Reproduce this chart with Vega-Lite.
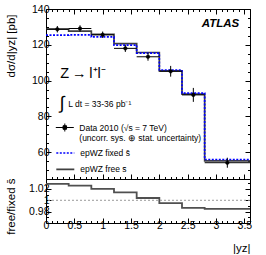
{
  "$schema": "https://vega.github.io/schema/vega-lite/v6.json",
  "background": "white",
  "padding": {"left": 4, "top": 3, "right": 5, "bottom": 2},
  "config": {
    "font": "Liberation Sans",
    "view": {"stroke": "black", "strokeWidth": 1},
    "axis": {"domain": false, "grid": false, "labelFont": "Liberation Sans", "labelFontSize": 10.5, "labelColor": "black", "tickColor": "black", "tickWidth": 1, "titleFont": "Liberation Sans", "titleFontSize": 11.5, "titleFontWeight": "normal", "titleColor": "black", "labelOverlap": false, "labelFlush": false},
    "legend": {"labelFont": "Liberation Sans", "labelFontSize": 8.5, "labelColor": "black", "labelLimit": 0, "padding": 0, "offset": 0}
  },
  "datasets": {
    "models": [
      {"model": "epWZ free s̄", "x": 0, "dsdy": 128.8},
      {"model": "epWZ free s̄", "x": 0.4, "dsdy": 127.6},
      {"model": "epWZ free s̄", "x": 0.8, "dsdy": 125.8},
      {"model": "epWZ free s̄", "x": 1.2, "dsdy": 120.6},
      {"model": "epWZ free s̄", "x": 1.6, "dsdy": 115.7},
      {"model": "epWZ free s̄", "x": 2.0, "dsdy": 105.4},
      {"model": "epWZ free s̄", "x": 2.4, "dsdy": 92.4},
      {"model": "epWZ free s̄", "x": 2.8, "dsdy": 55.1},
      {"model": "epWZ free s̄", "x": 3.6, "dsdy": 55.1},
      {"model": "epWZ fixed s̄", "x": 0, "dsdy": 125.4},
      {"model": "epWZ fixed s̄", "x": 0.4, "dsdy": 125.5},
      {"model": "epWZ fixed s̄", "x": 0.8, "dsdy": 124.4},
      {"model": "epWZ fixed s̄", "x": 1.2, "dsdy": 119.8},
      {"model": "epWZ fixed s̄", "x": 1.6, "dsdy": 115.3},
      {"model": "epWZ fixed s̄", "x": 2.0, "dsdy": 105.9},
      {"model": "epWZ fixed s̄", "x": 2.4, "dsdy": 93.0},
      {"model": "epWZ fixed s̄", "x": 2.8, "dsdy": 55.9},
      {"model": "epWZ fixed s̄", "x": 3.6, "dsdy": 55.9}
    ],
    "bins": [
      {"label": "Data 2010 (√s = 7 TeV)", "lo": 0.0, "hi": 0.4, "c": 0.2, "data": 128.7, "err": 1.8},
      {"label": "Data 2010 (√s = 7 TeV)", "lo": 0.4, "hi": 0.8, "c": 0.6, "data": 129.1, "err": 1.8},
      {"label": "Data 2010 (√s = 7 TeV)", "lo": 0.8, "hi": 1.2, "c": 1.0, "data": 125.6, "err": 1.8},
      {"label": "Data 2010 (√s = 7 TeV)", "lo": 1.2, "hi": 1.6, "c": 1.4, "data": 118.0, "err": 2.0},
      {"label": "Data 2010 (√s = 7 TeV)", "lo": 1.6, "hi": 2.0, "c": 1.8, "data": 113.3, "err": 2.2},
      {"label": "Data 2010 (√s = 7 TeV)", "lo": 2.0, "hi": 2.4, "c": 2.2, "data": 105.2, "err": 3.0},
      {"label": "Data 2010 (√s = 7 TeV)", "lo": 2.4, "hi": 2.8, "c": 2.6, "data": 92.0, "err": 3.9},
      {"label": "Data 2010 (√s = 7 TeV)", "lo": 2.8, "hi": 3.6, "c": 3.2, "data": 54.1, "err": 2.8}
    ],
    "ratio": [
      {"x": 0, "r": 1.029},
      {"x": 0.4, "r": 1.026},
      {"x": 0.8, "r": 1.020},
      {"x": 1.2, "r": 1.014},
      {"x": 1.6, "r": 1.004},
      {"x": 2.0, "r": 0.995},
      {"x": 2.4, "r": 0.9865},
      {"x": 2.8, "r": 0.985},
      {"x": 3.6, "r": 0.985}
    ]
  },
  "spacing": 0,
  "bounds": "flush",
  "vconcat": [
    {
      "width": 204,
      "height": 170,
      "resolve": {"axis": {"x": "independent", "y": "independent"}},
      "layer": [
        {
          "data": {"name": "models"},
          "mark": {"type": "line", "interpolate": "step-after", "strokeWidth": 1.7},
          "encoding": {
            "x": {"field": "x", "type": "quantitative", "scale": {"domain": [0, 3.6], "nice": false, "zero": false},
              "axis": {"orient": "bottom", "values": [0,0.1,0.2,0.3,0.4,0.5,0.6,0.7,0.8,0.9,1,1.1,1.2,1.3,1.4,1.5,1.6,1.7,1.8,1.9,2,2.1,2.2,2.3,2.4,2.5,2.6,2.7,2.8,2.9,3,3.1,3.2,3.3,3.4,3.5,3.6], "labels": false, "title": null,
                "tickSize": {"condition": {"test": "abs(datum.value*2-round(datum.value*2))<0.001", "value": -5}, "value": -2.5}}},
            "y": {"field": "dsdy", "type": "quantitative", "scale": {"domain": [45, 140], "nice": false, "zero": false},
              "axis": {"orient": "left", "values": [45,50,55,60,65,70,75,80,85,90,95,100,105,110,115,120,125,130,135,140], "labelExpr": "datum.value % 20 == 0 ? datum.label : ''", "labelPadding": 2,
                "tickSize": {"condition": {"test": "datum.value % 20 == 0", "value": -5}, "value": -2.5},
                "title": "dσ/d|yᴢ| [pb]", "titleAngle": -90, "titleAlign": "right", "titleBaseline": "top", "titleX": -41, "titleY": 5}},
            "color": {"field": "model", "type": "nominal", "scale": {"domain": ["epWZ fixed s̄", "epWZ free s̄"], "range": ["#0000ff", "#404040"]},
              "legend": {"orient": "none", "legendX": 13.3, "legendY": 138, "title": null, "symbolType": "M-1.8,0H1.8", "symbolSize": 100, "symbolStrokeWidth": 1.6, "labelOffset": 9, "rowPadding": 5.4}},
            "strokeDash": {"field": "model", "type": "nominal", "scale": {"domain": ["epWZ fixed s̄", "epWZ free s̄"], "range": [[2, 1.5], [1, 0]]},
              "legend": {"orient": "none", "legendX": 13.3, "legendY": 138, "title": null, "symbolType": "M-1.8,0H1.8", "symbolSize": 100, "symbolStrokeWidth": 1.6, "labelOffset": 9, "rowPadding": 5.4}}
          }
        },
        {
          "data": {"name": "bins"},
          "mark": {"type": "rule", "color": "black", "strokeWidth": 1},
          "encoding": {
            "x": {"field": "lo", "type": "quantitative",
              "axis": {"orient": "top", "values": [0,0.1,0.2,0.3,0.4,0.5,0.6,0.7,0.8,0.9,1,1.1,1.2,1.3,1.4,1.5,1.6,1.7,1.8,1.9,2,2.1,2.2,2.3,2.4,2.5,2.6,2.7,2.8,2.9,3,3.1,3.2,3.3,3.4,3.5,3.6], "labels": false, "title": null,
                "tickSize": {"condition": {"test": "abs(datum.value*2-round(datum.value*2))<0.001", "value": -5}, "value": -2.5}}},
            "x2": {"field": "hi"},
            "y": {"field": "data", "type": "quantitative",
              "axis": {"orient": "right", "values": [45,50,55,60,65,70,75,80,85,90,95,100,105,110,115,120,125,130,135,140], "labels": false, "title": null,
                "tickSize": {"condition": {"test": "datum.value % 20 == 0", "value": -5}, "value": -2.5}}}
          }
        },
        {
          "data": {"name": "bins"},
          "mark": {"type": "errorbar", "ticks": false, "color": "black", "thickness": 1},
          "encoding": {
            "x": {"field": "c", "type": "quantitative", "axis": null},
            "y": {"field": "data", "type": "quantitative", "axis": null},
            "yError": {"field": "err"}
          }
        },
        {
          "data": {"name": "bins"},
          "mark": {"type": "point", "filled": true, "size": 13, "opacity": 1, "stroke": "black", "strokeWidth": 0.5},
          "encoding": {
            "x": {"field": "c", "type": "quantitative", "axis": null},
            "y": {"field": "data", "type": "quantitative", "axis": null},
            "fill": {"field": "label", "type": "nominal", "scale": {"range": ["black"]},
              "legend": {"orient": "none", "legendX": 13.3, "legendY": 113, "title": null, "labelOffset": 9, "symbolSize": 100,
                "symbolType": "M-1.8,0H1.8M0,-0.8V0.8M-0.35,-0.35H0.35V0.35H-0.35Z", "symbolStrokeColor": "black", "symbolStrokeWidth": 1, "symbolFillColor": "black",
                "labelExpr": "['Data 2010 (√s = 7 TeV)', '(uncorr. sys. ⊕ stat. uncertainty)']",
                "encode": {"labels": {"update": {"lineHeight": {"value": 8.2}}}}}}
          }
        },
        {
          "data": {"values": [{}]},
          "mark": {"type": "text", "text": "ATLAS", "fontSize": 11.5, "fontWeight": "bold", "fontStyle": "italic", "align": "right", "baseline": "alphabetic", "color": "black"},
          "encoding": {"x": {"datum": 3.41, "type": "quantitative", "axis": null}, "y": {"datum": 129.9, "type": "quantitative", "axis": null}}
        },
        {
          "data": {"values": [{}]},
          "mark": {"type": "text", "text": "Z\u2009→\u2009l⁺l⁻", "fontSize": 14.5, "align": "left", "baseline": "alphabetic", "color": "black"},
          "encoding": {"x": {"datum": 0.25, "type": "quantitative", "axis": null}, "y": {"datum": 101.4, "type": "quantitative", "axis": null}}
        },
        {
          "data": {"values": [{}]},
          "mark": {"type": "text", "text": "∫", "fontSize": 18, "align": "center", "baseline": "middle", "color": "black"},
          "encoding": {"x": {"datum": 0.287, "type": "quantitative", "axis": null}, "y": {"datum": 86.9, "type": "quantitative", "axis": null}}
        },
        {
          "data": {"values": [{}]},
          "mark": {"type": "text", "text": "L dt = 33-36 pb⁻¹", "fontSize": 8.5, "align": "left", "baseline": "alphabetic", "color": "black"},
          "encoding": {"x": {"datum": 0.393, "type": "quantitative", "axis": null}, "y": {"datum": 85.2, "type": "quantitative", "axis": null}}
        }
      ]
    },
    {
      "width": 204,
      "height": 44,
      "resolve": {"axis": {"y": "independent"}},
      "layer": [
        {
          "data": {"name": "ratio"},
          "mark": {"type": "line", "interpolate": "step-after", "strokeWidth": 1.8, "color": "#505050"},
          "encoding": {
            "x": {"field": "x", "type": "quantitative", "scale": {"domain": [0, 3.6], "nice": false, "zero": false},
              "axis": {"orient": "bottom", "values": [0,0.1,0.2,0.3,0.4,0.5,0.6,0.7,0.8,0.9,1,1.1,1.2,1.3,1.4,1.5,1.6,1.7,1.8,1.9,2,2.1,2.2,2.3,2.4,2.5,2.6,2.7,2.8,2.9,3,3.1,3.2,3.3,3.4,3.5,3.6], "format": "~g",
                "labelExpr": "abs(datum.value*2-round(datum.value*2))<0.001 && datum.value < 3.55 ? datum.label : ''", "labelPadding": 2,
                "tickSize": {"condition": {"test": "abs(datum.value*2-round(datum.value*2))<0.001", "value": -5}, "value": -2.5},
                "title": "|yᴢ|", "titleAlign": "right", "titleBaseline": "alphabetic", "titleX": 204, "titleY": 28}},
            "y": {"field": "r", "type": "quantitative", "scale": {"domain": [0.96, 1.0375], "nice": false, "zero": false},
              "axis": {"orient": "left", "values": [0.97, 0.98, 0.99, 1, 1.01, 1.02, 1.03], "format": "~g",
                "labelExpr": "abs(datum.value*50-round(datum.value*50))<0.001 ? datum.label : ''", "labelPadding": 2,
                "tickSize": {"condition": {"test": "abs(datum.value*50-round(datum.value*50))<0.001", "value": -5}, "value": -2.5},
                "title": "free/fixed s̄", "titleAngle": -90, "titleAlign": "right", "titleBaseline": "top", "titleX": -41, "titleY": -1}}
          }
        },
        {
          "data": {"values": [{}]},
          "mark": {"type": "rule", "color": "#999999", "strokeWidth": 1, "strokeDash": [2, 2]},
          "encoding": {
            "y": {"datum": 1, "type": "quantitative",
              "axis": {"orient": "right", "values": [0.97, 0.98, 0.99, 1, 1.01, 1.02, 1.03], "labels": false, "title": null,
                "tickSize": {"condition": {"test": "abs(datum.value*50-round(datum.value*50))<0.001", "value": -5}, "value": -2.5}}}
          }
        }
      ]
    }
  ]
}
